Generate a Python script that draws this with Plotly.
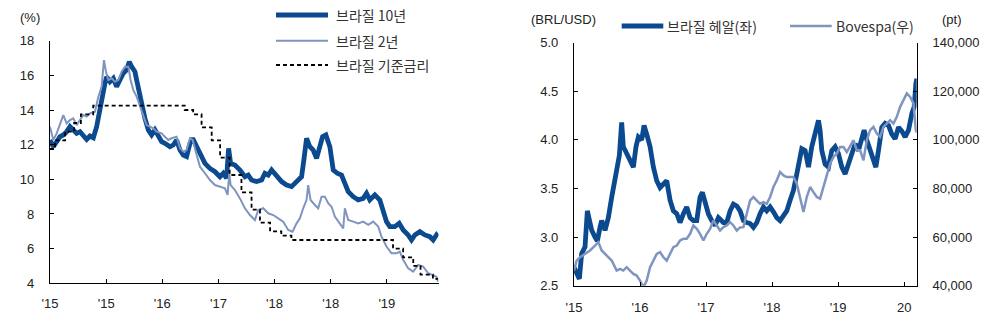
import plotly.graph_objects as go

# ---------------- Left chart: Brazil rates ----------------
left_tick_vals = [0, 1, 2, 3, 4, 5, 6]
left_tick_text = ["'15", "'15", "'16", "'17", "'18", "'18", "'19"]

t10 = [0.000, 0.059, 0.119, 0.178, 0.237, 0.297, 0.356, 0.415, 0.475, 0.534, 0.593, 0.653, 0.712, 0.772,
       0.831, 0.890, 0.920, 0.950, 0.979, 1.009, 1.068, 1.128, 1.187, 1.246, 1.306, 1.365, 1.412, 1.454,
       1.513, 1.543, 1.591, 1.632, 1.691, 1.751, 1.810, 1.869, 1.929, 1.988, 2.047, 2.136, 2.196, 2.255,
       2.315, 2.374, 2.433, 2.493, 2.540, 2.611, 2.671, 2.760, 2.849, 2.938, 3.027, 3.086, 3.145, 3.181,
       3.217, 3.294, 3.383, 3.472, 3.531, 3.591, 3.680, 3.769, 3.828, 3.887, 3.947, 4.036, 4.125, 4.214,
       4.303, 4.392, 4.481, 4.522, 4.570, 4.629, 4.688, 4.748, 4.795, 4.855, 4.914, 4.985, 5.045, 5.116,
       5.193, 5.252, 5.312, 5.401, 5.490, 5.579, 5.638, 5.697, 5.786, 5.875, 5.935, 5.994, 6.053, 6.142,
       6.220, 6.291, 6.380, 6.439, 6.499, 6.588, 6.677, 6.766, 6.825, 6.884, 6.912]
brazil_10y = [12.27, 11.88, 12.17, 12.46, 12.56, 12.75, 13.04, 12.85, 12.65, 12.75, 12.56, 12.30, 12.50, 12.40,
              13.04, 14.19, 14.77, 15.35, 15.54, 15.92, 15.63, 15.83, 15.35, 15.73, 16.12, 16.31, 16.79, 16.50,
              16.21, 15.73, 14.96, 14.38, 13.52, 12.85, 12.56, 12.85, 12.46, 12.17, 12.08, 11.88, 11.98, 12.27,
              11.69, 11.40, 11.31, 12.08, 12.37, 11.88, 11.40, 10.92, 10.63, 10.44, 10.15, 10.35, 10.06, 11.79,
              10.92, 10.83, 10.54, 10.15, 10.25, 9.96, 9.87, 9.96, 10.35, 10.25, 10.54, 10.15, 9.87, 9.67,
              9.58, 9.87, 10.15, 11.12, 12.37, 11.88, 11.69, 11.21, 11.88, 12.46, 12.56, 11.88, 10.54, 10.35,
              10.25, 9.77, 9.29, 9.00, 8.81, 8.90, 9.19, 8.81, 9.10, 8.81, 8.23, 7.56, 7.27, 7.27,
              7.46, 7.08, 6.79, 6.50, 6.79, 6.98, 6.79, 6.69, 6.50, 6.79, 6.69]

t2 = [0.000, 0.059, 0.119, 0.178, 0.237, 0.297, 0.356, 0.415, 0.475, 0.534, 0.593, 0.653, 0.712, 0.801,
      0.861, 0.920, 0.961, 0.997, 1.039, 1.098, 1.157, 1.217, 1.276, 1.335, 1.395, 1.436, 1.484, 1.543,
      1.602, 1.662, 1.721, 1.780, 1.840, 1.899, 1.988, 2.047, 2.107, 2.166, 2.255, 2.315, 2.374, 2.433,
      2.493, 2.540, 2.611, 2.671, 2.760, 2.849, 2.938, 3.027, 3.116, 3.163, 3.193, 3.217, 3.294, 3.383,
      3.472, 3.561, 3.650, 3.709, 3.798, 3.887, 3.976, 4.065, 4.154, 4.243, 4.320, 4.392, 4.451, 4.510,
      4.570, 4.599, 4.641, 4.718, 4.777, 4.837, 4.896, 4.955, 5.015, 5.074, 5.163, 5.223, 5.252, 5.312,
      5.401, 5.490, 5.579, 5.668, 5.757, 5.846, 5.905, 5.994, 6.083, 6.172, 6.231, 6.291, 6.380, 6.469,
      6.558, 6.647, 6.736, 6.825, 6.884, 6.912]
brazil_2y = [13.04, 12.27, 12.65, 13.13, 13.71, 13.23, 13.42, 13.52, 13.13, 13.42, 13.71, 13.62, 13.81, 13.90,
             14.77, 15.35, 16.88, 16.21, 15.73, 15.83, 15.63, 15.73, 16.21, 16.50, 16.50, 15.73, 15.15, 14.77,
             14.19, 13.62, 13.13, 13.04, 12.94, 12.75, 12.65, 12.46, 12.27, 12.37, 12.46, 11.79, 11.60, 11.69,
             12.37, 12.27, 11.50, 10.73, 10.35, 9.96, 9.67, 9.58, 9.48, 9.10, 10.35, 9.67, 9.38, 8.90,
             8.33, 7.94, 7.65, 8.23, 8.33, 8.04, 7.94, 7.75, 7.56, 7.08, 6.98, 7.46, 7.75, 8.33,
             8.81, 9.67, 8.81, 8.52, 8.33, 9.00, 9.00, 8.62, 8.42, 7.85, 7.46, 7.17, 8.33, 7.65,
             7.56, 7.46, 7.56, 7.37, 7.56, 7.27, 6.69, 6.12, 5.73, 5.73, 5.83, 5.35, 4.87, 4.67,
             5.06, 4.96, 4.58, 4.48, 4.38, 4.10]

t_rate = [0, 0.09, 0.27, 0.43, 0.55, 0.77, 2.40, 2.55, 2.70, 2.88, 3.03, 3.20, 3.41, 3.59, 3.74, 3.92,
          4.12, 4.30, 6.11, 6.29, 6.47, 6.60, 6.82, 6.912]
policy_rate = [11.75, 12.25, 12.75, 13.25, 13.75, 14.25, 14.00, 13.75, 13.00, 12.25, 11.25, 10.25, 9.25,
               8.25, 7.50, 7.00, 6.75, 6.50, 6.00, 5.50, 5.00, 4.50, 4.25, 4.25]

# ---------------- Right chart: BRL and Bovespa ----------------
right_tick_vals = [2015, 2016, 2017, 2018, 2019, 2020]
right_tick_text = ["'15", "'16", "'17", "'18", "'19", "20"]

yr_brl = [0.000, 0.040, 0.081, 0.116, 0.167, 0.202, 0.232, 0.268, 0.318, 0.354, 0.394, 0.419, 0.470, 0.520,
          0.571, 0.596, 0.646, 0.687, 0.722, 0.747, 0.798, 0.848, 0.899, 0.939, 0.975, 1.025, 1.061, 1.101,
          1.152, 1.202, 1.253, 1.303, 1.354, 1.404, 1.455, 1.505, 1.556, 1.606, 1.657, 1.707, 1.758, 1.808,
          1.859, 1.909, 1.944, 1.985, 2.035, 2.086, 2.136, 2.187, 2.263, 2.313, 2.364, 2.414, 2.465,
          2.515, 2.566, 2.616, 2.667, 2.717, 2.768, 2.818, 2.869, 2.919, 2.970, 3.020, 3.071, 3.121, 3.172,
          3.222, 3.273, 3.323, 3.374, 3.424, 3.449, 3.500, 3.551, 3.601, 3.652, 3.702, 3.727, 3.753, 3.803,
          3.854, 3.904, 3.955, 4.005, 4.056, 4.106, 4.157, 4.207, 4.258, 4.308, 4.359, 4.394, 4.434, 4.485,
          4.535, 4.571, 4.611, 4.662, 4.712, 4.763, 4.813, 4.864, 4.914, 4.965, 5.015, 5.066, 5.116, 5.152,
          5.177, 5.192]
brl_usd = [2.69, 2.62, 2.57, 2.83, 2.90, 3.27, 3.17, 3.07, 3.00, 2.96, 3.10, 3.17, 3.07, 3.20,
           3.41, 3.51, 3.65, 3.84, 4.18, 3.93, 3.86, 3.79, 3.72, 3.93, 4.03, 4.00, 4.15, 4.06,
           3.93, 3.72, 3.58, 3.51, 3.55, 3.58, 3.38, 3.27, 3.24, 3.15, 3.24, 3.31, 3.20, 3.17,
           3.17, 3.41, 3.46, 3.34, 3.24, 3.17, 3.12, 3.20, 3.15, 3.15, 3.27, 3.34, 3.32,
           3.27, 3.17, 3.15, 3.14, 3.10, 3.15, 3.24, 3.31, 3.27, 3.31, 3.26, 3.20, 3.17, 3.22,
           3.27, 3.38, 3.48, 3.65, 3.82, 3.91, 3.89, 3.72, 3.93, 4.06, 4.20, 4.10, 3.89, 3.75,
           3.72, 3.89, 3.93, 3.86, 3.72, 3.65, 3.75, 3.86, 3.96, 3.89, 4.00, 4.10, 4.00, 3.89,
           3.79, 3.72, 3.89, 4.13, 4.17, 4.15, 4.06, 4.01, 4.13, 4.09, 4.03, 4.10, 4.27, 4.34,
           4.58, 4.63]

yr_bov = [0.000, 0.040, 0.091, 0.167, 0.242, 0.318, 0.369, 0.419, 0.470, 0.520, 0.571, 0.646, 0.697, 0.747,
          0.798, 0.848, 0.899, 0.949, 1.000, 1.051, 1.101, 1.152, 1.202, 1.253, 1.303, 1.354, 1.404, 1.455,
          1.505, 1.556, 1.606, 1.657, 1.707, 1.758, 1.808, 1.859, 1.909, 1.960, 2.010, 2.061, 2.111, 2.162,
          2.212, 2.263, 2.313, 2.364, 2.414, 2.465, 2.515, 2.566, 2.616, 2.667, 2.717, 2.768, 2.818, 2.869,
          2.919, 2.970, 3.020, 3.071, 3.121, 3.172, 3.222, 3.273, 3.323, 3.374, 3.424, 3.475, 3.525, 3.576,
          3.626, 3.677, 3.727, 3.778, 3.828, 3.879, 3.929, 3.980, 4.030, 4.081, 4.131, 4.182, 4.232, 4.283,
          4.333, 4.384, 4.434, 4.485, 4.535, 4.586, 4.636, 4.687, 4.737, 4.788, 4.838, 4.889, 4.939, 4.990,
          5.040, 5.091, 5.141, 5.177, 5.192]
bovespa = [46225, 50350, 51700, 53100, 54500, 56500, 57900, 54500, 53100, 51700, 50350, 46225, 46900, 46225,
           47600, 46225, 44850, 44160, 42100, 39350, 42100, 47600, 50350, 53100, 53800, 51700, 50350, 53100,
           55850, 56500, 58600, 59300, 59300, 61350, 64800, 63400, 61350, 58600, 61350, 63400, 66850, 64800,
           62725, 64100, 64800, 66150, 64800, 62725, 64000, 64100, 69600, 75100, 76500, 75100, 73700, 74400,
           73700, 76500, 80600, 83350, 86800, 85400, 84700, 84700, 84700, 82000, 76500, 70300, 76500, 80600,
           78500, 76500, 75800, 80600, 86100, 90200, 93000, 94350, 97100, 97100, 95000, 97800, 99850, 95700,
           95700, 91600, 99850, 104000, 105350, 102600, 101200, 105350, 106700, 108100, 106700, 109500, 113600, 116350,
           119100, 117700, 115000, 104000, 103000]

DARK = "#0b4a8f"
LIGHT = "#8094c0"
FONT = "Liberation Sans, Arial, Noto Sans CJK KR"
KFONT = "Noto Sans CJK KR, Liberation Sans"
W, H = 1000, 324


def px(x):
    return x / W


def py(y):
    return 1 - y / H


fig = go.Figure()
fig.add_trace(go.Scatter(x=t10, y=brazil_10y, mode="lines", line=dict(color=DARK, width=4.8),
                         xaxis="x", yaxis="y", name="브라질 10년"))
fig.add_trace(go.Scatter(x=t2, y=brazil_2y, mode="lines", line=dict(color=LIGHT, width=2),
                         xaxis="x", yaxis="y", name="브라질 2년"))
fig.add_trace(go.Scatter(x=t_rate, y=policy_rate, mode="lines",
                         line=dict(color="black", width=1.8, dash="4px,3px", shape="hv"),
                         xaxis="x", yaxis="y", name="브라질 기준금리"))

fig.add_trace(go.Scatter(x=[2015 + v for v in yr_brl], y=brl_usd, mode="lines", line=dict(color=DARK, width=4.8),
                         xaxis="x2", yaxis="y2", name="브라질 헤알(좌)"))
fig.add_trace(go.Scatter(x=[2015 + v for v in yr_bov], y=bovespa, mode="lines", line=dict(color=LIGHT, width=2.5),
                         xaxis="x2", yaxis="y3", name="Bovespa(우)"))

axis_common = dict(showline=True, linecolor="black", linewidth=1.3, ticks="inside", ticklen=4,
                   tickcolor="black", tickwidth=1, showgrid=False, zeroline=False, automargin=False,
                   tickfont=dict(family=FONT, size=13, color="#222"))

fig.update_layout(
    template="none",
    width=W, height=H, margin=dict(l=0, r=0, t=0, b=0, pad=0),
    paper_bgcolor="white", plot_bgcolor="white", showlegend=False,
    xaxis=dict(domain=[px(50), px(438.5)], range=[0, 6.92], tickvals=left_tick_vals, ticktext=left_tick_text,
               anchor="y", ticklabelstandoff=8, **axis_common),
    yaxis=dict(domain=[py(283.3), py(40.7)], range=[4, 18], dtick=2, anchor="x",
               ticklabelstandoff=12, **axis_common),
    xaxis2=dict(domain=[px(574), px(916.7)], range=[2015, 2020.19], tickvals=right_tick_vals,
                ticktext=right_tick_text, anchor="y2", ticklabelstandoff=10, **axis_common),
    yaxis2=dict(domain=[py(285.7), py(42.7)], range=[2.5, 5.0], dtick=0.5, tickformat=".1f", anchor="x2",
                ticklabelstandoff=12, **axis_common),
    yaxis3=dict(range=[40000, 140000], dtick=20000, tickformat=",d", overlaying="y2", side="right",
                anchor="x2", ticklabelstandoff=12, **axis_common),
)

# Unit labels
for txt, x, y in [("(%)", 30, 17), ("(BRL/USD)", 563, 19), ("(pt)", 952, 19)]:
    fig.add_annotation(text=txt, x=px(x), y=py(y), xref="paper", yref="paper", showarrow=False,
                       xanchor="center", yanchor="middle", font=dict(family=FONT, size=13, color="#222"))

# Legend (left)
legend_left = [("브라질 10년", 15, DARK, 4.8, "solid"),
               ("브라질 2년", 40.7, LIGHT, 2, "solid"),
               ("브라질 기준금리", 65, "black", 1.8, "4px,3px")]
for name, y, col, w, dash in legend_left:
    fig.add_shape(type="line", xref="paper", yref="paper", x0=px(276), x1=px(328), y0=py(y), y1=py(y),
                  line=dict(color=col, width=w, dash=dash))
    fig.add_annotation(text=name, x=px(334), y=py(y), xref="paper", yref="paper", showarrow=False,
                       xanchor="left", yanchor="middle", font=dict(family=KFONT, size=14, color="#333"))

# Legend (right)
legend_right = [("브라질 헤알(좌)", 621.7, 663.3, DARK, 4.8), ("Bovespa(우)", 790, 831.7, LIGHT, 2.5)]
for name, x0, x1, col, w in legend_right:
    fig.add_shape(type="line", xref="paper", yref="paper", x0=px(x0), x1=px(x1), y0=py(26), y1=py(26),
                  line=dict(color=col, width=w))
    fig.add_annotation(text=name, x=px(x1 + 2), y=py(26), xref="paper", yref="paper", showarrow=False,
                       xanchor="left", yanchor="middle", font=dict(family=KFONT, size=14, color="#333"))

fig.write_html("out.html")
